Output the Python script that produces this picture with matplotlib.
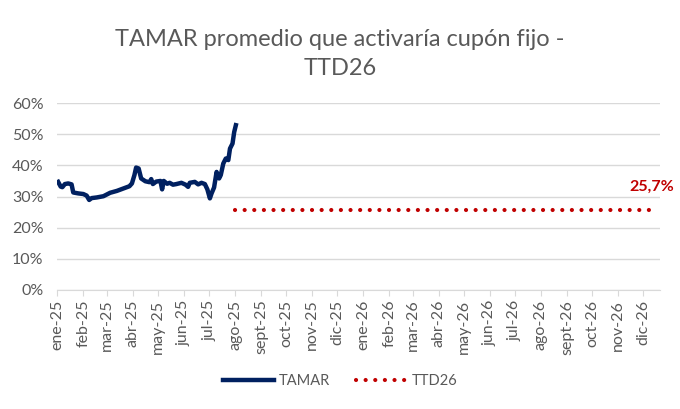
import pandas as pd
import matplotlib.pyplot as plt

plt.rcParams['font.family'] = ['Lato', 'DejaVu Sans']

# TAMAR promedio (fraction)
tamar_dates = [
    "2025-01-02", "2025-01-05", "2025-01-07", "2025-01-10", "2025-01-14", "2025-01-18",
    "2025-01-20", "2025-01-26", "2025-02-01", "2025-02-05", "2025-02-08", "2025-02-11",
    "2025-02-17", "2025-02-25", "2025-03-05", "2025-03-13", "2025-03-21", "2025-03-28",
    "2025-03-31", "2025-04-03", "2025-04-05", "2025-04-08", "2025-04-11", "2025-04-16",
    "2025-04-21", "2025-04-23", "2025-04-25", "2025-04-29", "2025-05-04", "2025-05-06",
    "2025-05-08", "2025-05-12", "2025-05-15", "2025-05-19", "2025-05-23", "2025-05-29",
    "2025-06-03", "2025-06-06", "2025-06-08", "2025-06-14", "2025-06-18", "2025-06-22",
    "2025-06-26", "2025-06-29", "2025-07-02", "2025-07-04", "2025-07-07", "2025-07-10",
    "2025-07-13", "2025-07-15", "2025-07-18", "2025-07-21", "2025-07-24", "2025-07-26",
    "2025-07-29", "2025-07-31", "2025-08-02",
]
tamar_vals = [
    0.347, 0.332, 0.330, 0.340, 0.342, 0.339,
    0.313, 0.310, 0.308, 0.303, 0.289, 0.295,
    0.297, 0.301, 0.312, 0.318, 0.326, 0.333,
    0.342, 0.369, 0.393, 0.390, 0.358, 0.349,
    0.346, 0.356, 0.340, 0.348, 0.350, 0.323,
    0.350, 0.341, 0.344, 0.338, 0.340, 0.344,
    0.338, 0.331, 0.344, 0.347, 0.339, 0.344,
    0.340, 0.323, 0.294, 0.310, 0.329, 0.379,
    0.358, 0.369, 0.406, 0.422, 0.417, 0.454,
    0.470, 0.507, 0.529,
]

# TTD26 breakeven
ttd_dates = ["2025-08-01", "2026-12-15"]
ttd_vals = [0.257, 0.257]

month_labels = ["ene-25", "feb-25", "mar-25", "abr-25", "may-25", "jun-25",
                "jul-25", "ago-25", "sept-25", "oct-25", "nov-25", "dic-25",
                "ene-26", "feb-26", "mar-26", "abr-26", "may-26", "jun-26",
                "jul-26", "ago-26", "sept-26", "oct-26", "nov-26", "dic-26"]
month_ticks = pd.date_range("2025-01-01", periods=24, freq="MS")

gray = "#595959"
light = "#D9D9D9"

fig = plt.figure(figsize=(6.8, 4.09), dpi=100)
ax = fig.add_axes([0.0843, 0.291, 0.8863, 0.457])

ax.plot(pd.to_datetime(tamar_dates), tamar_vals, color="#002060", lw=3.2,
        solid_joinstyle="round", label="TAMAR")
ax.plot(pd.to_datetime(ttd_dates), ttd_vals, color="#C00000", lw=3,
        linestyle=(0, (0.01, 2.3)), dash_capstyle="round", label="TTD26")
ax.annotate("25,7%", xy=(pd.Timestamp(ttd_dates[-1]), ttd_vals[-1]),
            xytext=(-2, 17), textcoords="offset points", ha="center", va="center",
            color="#C00000", fontsize=11.5, fontweight="bold")

ax.set_ylim(0, 0.6)
ax.set_yticks([0, 0.1, 0.2, 0.3, 0.4, 0.5, 0.6])
ax.set_yticklabels([f"{int(round(v*100))}%" for v in ax.get_yticks()])
ax.set_xlim(pd.Timestamp("2025-01-01"), pd.Timestamp("2026-12-21"))
ax.set_xticks(month_ticks)
ax.set_xticklabels(month_labels, rotation=90)

ax.grid(axis="y", color=light, lw=1)
ax.set_axisbelow(True)
for s in ["top", "right", "left"]:
    ax.spines[s].set_visible(False)
ax.spines["bottom"].set_color(light)
ax.tick_params(axis="y", length=0, pad=10, labelsize=11.5, labelcolor=gray)
ax.tick_params(axis="x", length=4, color=light, pad=3, labelsize=11.5, labelcolor=gray)

fig.text(0.5, 0.868, "TAMAR promedio que activaría cupón fijo -\nTTD26",
         ha="center", va="center", fontsize=17, color=gray, linespacing=1.45)

fig.legend(loc="center", bbox_to_anchor=(0.5, 0.068), ncol=2, frameon=False,
           fontsize=10.5, labelcolor=gray, handlelength=3.5, columnspacing=1.8,
           handletextpad=0.3)

fig.savefig("out.png", dpi=100)
